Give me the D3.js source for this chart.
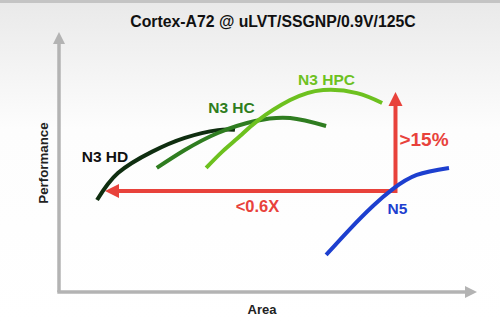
<!DOCTYPE html>
<html>
<head>
<meta charset="utf-8">
<script src="https://cdn.jsdelivr.net/npm/d3@7"></script>
<style>
  body { margin: 0; }
  #viz text { font-family: "Liberation Sans", Arial, sans-serif; font-weight: bold; }
</style>
</head>
<body>
<div id="viz"></div>
<script>
// Kurven in willkürlichen Einheiten (Fläche 0..100, Leistung 0..100)
const n3hd = [[9.1, 35.5], [14.1, 45.9], [22.2, 54.1], [30.1, 59.5], [38.0, 62.5], [42.1, 62.6]]
const n3hc = [[23.4, 47.9], [30.1, 54.8], [38.0, 61.4], [46.9, 66.0], [55.3, 67.2], [63.9, 64.1]]
const n3hpc = [[35.2, 47.9], [39.2, 54.4], [43.3, 60.2], [47.4, 66.0], [55.3, 74.1], [63.2, 78.0], [71.3, 76.8], [77.3, 73.0]]
const n5 = [[63.9, 14.3], [69.6, 24.3], [75.1, 33.2], [79.9, 39.8], [85.6, 45.2], [93.3, 47.9]]
const seriesNames = ["N3 HD", "N3 HC", "N3 HPC", "N5"]
const refPoint = [80.5, 39.0]
const arrowLeftX = 11.0
const arrowTopY = 77.2

document.addEventListener("DOMContentLoaded", () => {
  const width = 500
  const height = 324

  const svg = d3.select("#viz").append("svg")
    .attr("width", width)
    .attr("height", height)

  const defs = svg.append("defs")
  const grad = defs.append("linearGradient").attr("id", "bg")
    .attr("x1", 0).attr("y1", 0).attr("x2", 0).attr("y2", 1)
  grad.append("stop").attr("offset", "0%").attr("stop-color", "#e9e9e9")
  grad.append("stop").attr("offset", "40%").attr("stop-color", "#fdfdfd")
  grad.append("stop").attr("offset", "100%").attr("stop-color", "#ffffff")

  svg.append("rect").attr("width", width).attr("height", height).attr("fill", "url(#bg)")
  svg.append("rect").attr("width", width).attr("height", 3).attr("fill", "#c4c4c4")

  const x = d3.scaleLinear().domain([0, 100]).range([59, 477])
  const y = d3.scaleLinear().domain([0, 100]).range([292, 33])

  // Achsen
  const gray = "#b3b3b3"
  svg.append("line")
    .attr("x1", x(0)).attr("y1", y(0)).attr("x2", x(0)).attr("y2", y(100) + 10)
    .attr("stroke", gray).attr("stroke-width", 3.5)
  svg.append("line")
    .attr("x1", x(0) - 1.7).attr("y1", y(0)).attr("x2", x(100) - 10).attr("y2", y(0))
    .attr("stroke", gray).attr("stroke-width", 3.5)
  svg.append("path")
    .attr("d", `M${x(0)},${y(100) - 1} l-6,12 l12,0 z`).attr("fill", gray)
  svg.append("path")
    .attr("d", `M${x(100)},${y(0)} l-12,-6 l0,12 z`).attr("fill", gray)

  svg.append("text")
    .attr("x", 273).attr("y", 27)
    .attr("text-anchor", "middle")
    .attr("font-size", 15.8)
    .attr("fill", "#111")
    .text("Cortex-A72 @ uLVT/SSGNP/0.9V/125C")

  svg.append("text")
    .attr("transform", "translate(48,163) rotate(-90)")
    .attr("text-anchor", "middle")
    .attr("font-size", 13.3)
    .attr("fill", "#222")
    .text("Performance")

  svg.append("text")
    .attr("x", 262).attr("y", 314)
    .attr("text-anchor", "middle")
    .attr("font-size", 13)
    .attr("fill", "#222")
    .text("Area")

  const line = d3.line()
    .x(d => x(d[0]))
    .y(d => y(d[1]))
    .curve(d3.curveNatural)

  const curves = [
    { data: n3hd, color: "#0f2e10" },
    { data: n3hc, color: "#2f7d20" },
    { data: n3hpc, color: "#6dc11f" },
    { data: n5, color: "#1d3fcf" }
  ]

  // Rote Pfeile zuerst, damit N5 darüber liegt
  const red = "#e8423b"
  svg.append("line")
    .attr("x1", x(refPoint[0]) + 1.5).attr("y1", y(refPoint[1]))
    .attr("x2", x(arrowLeftX) + 10).attr("y2", y(refPoint[1]))
    .attr("stroke", red).attr("stroke-width", 4)
  svg.append("path")
    .attr("d", `M${x(arrowLeftX)},${y(refPoint[1])} l14,-7 l0,14 z`).attr("fill", red)
  svg.append("line")
    .attr("x1", x(refPoint[0])).attr("y1", y(refPoint[1]) + 2)
    .attr("x2", x(refPoint[0])).attr("y2", y(arrowTopY) + 10)
    .attr("stroke", red).attr("stroke-width", 4)
  svg.append("path")
    .attr("d", `M${x(refPoint[0])},${y(arrowTopY)} l-7,14 l14,0 z`).attr("fill", red)

  svg.selectAll("path.curve")
    .data(curves)
    .enter()
    .append("path")
    .attr("class", "curve")
    .attr("d", d => line(d.data))
    .attr("fill", "none")
    .attr("stroke", d => d.color)
    .attr("stroke-width", 4)

  const labels = [
    { text: seriesNames[0], x: 105, y: 162, color: "#111", size: 15.5 },
    { text: seriesNames[1], x: 231.5, y: 113, color: "#2f7d20", size: 15.5 },
    { text: seriesNames[2], x: 326.5, y: 85, color: "#6dc11f", size: 15.5 },
    { text: seriesNames[3], x: 397.5, y: 214, color: "#1d3fcf", size: 15.5 },
    { text: ">15%", x: 424, y: 146, color: red, size: 19 },
    { text: "<0.6X", x: 257.5, y: 212, color: red, size: 16.5 }
  ]
  svg.selectAll("text.lbl")
    .data(labels)
    .enter()
    .append("text")
    .attr("class", "lbl")
    .attr("x", d => d.x).attr("y", d => d.y)
    .attr("text-anchor", "middle")
    .attr("font-size", d => d.size)
    .attr("fill", d => d.color)
    .text(d => d.text)
})
</script>
</body>
</html>
